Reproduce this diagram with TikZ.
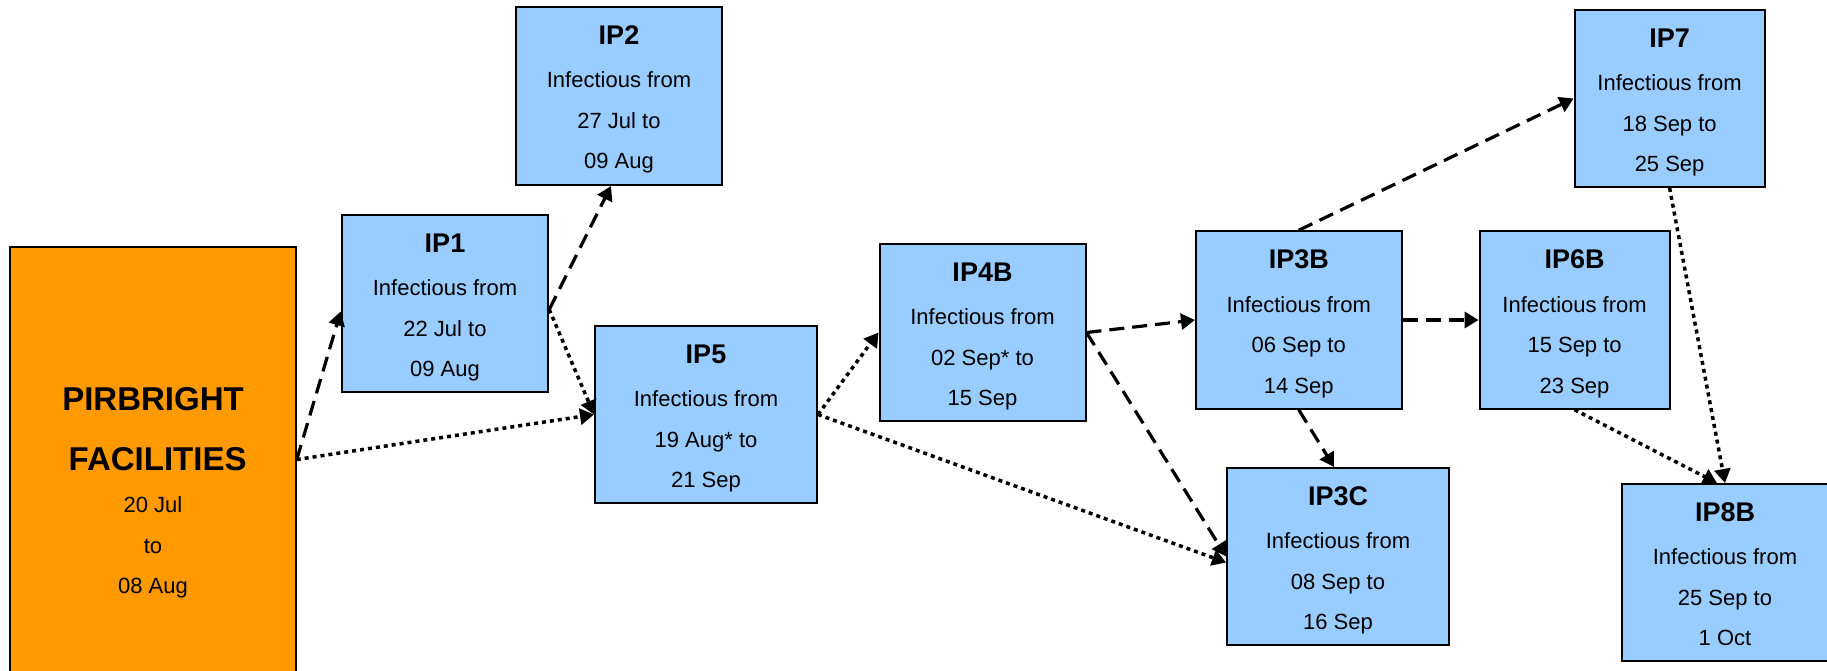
\documentclass[tikz,border=0pt]{standalone}
\usepackage{fontspec}
\setmainfont{Liberation Sans}
\usetikzlibrary{arrows.meta,calc}
\definecolor{ipblue}{RGB}{153,204,255}
\definecolor{pirorange}{RGB}{255,153,0}
\newcommand\iptitlefont{\fontsize{13.5}{20}\selectfont\bfseries}
\newcommand\pirtitlefont{\fontsize{16.5}{20}\selectfont\bfseries}
% #1 name, #2 cx, #3 cy, #4 w, #5 h, #6 title, #7 from, #8 to
\newcommand\IPbox[8]{%
  \node[ipbox, minimum width=#4*0.5pt, minimum height=#5*0.5pt] (#1) at (#2,#3) {};
  \node[iptext, anchor=north] (#1-t) at ([yshift=-9.6pt]#1.north)
    {{\iptitlefont #6}\\[1.5pt]Infectious from\\#7 to\\#8};
}
\begin{document}
\begin{tikzpicture}[x=0.5pt,y=-0.5pt,
  ipbox/.style={draw=black, line width=1pt, fill=ipblue, inner sep=0pt},
  pirbox/.style={draw=black, line width=1pt, fill=pirorange, inner sep=0pt},
  iptext/.style={align=center, inner sep=0pt, font=\fontsize{11}{20.25}\selectfont},
  dasharrow/.style={line width=1.6pt, dash pattern=on 7.5pt off 4pt,
    -{Triangle[length=7pt,width=8pt]}},
  dotarrow/.style={line width=1.75pt, dash pattern=on 2pt off 2pt,
    -{Triangle[length=7pt,width=8pt]}}
]
\path[use as bounding box, fill=white] (0,0) rectangle (1827,670);

% Pirbright
\node[pirbox, minimum width=285.5*0.5pt, minimum height=425*0.5pt] (pir) at (153,459.5) {};
\node[iptext, anchor=north] (pir-t) at ([yshift=-70.5pt]pir.north)
  {{\pirtitlefont PIRBRIGHT}\\[9.75pt]{\pirtitlefont\hspace*{0.278em}FACILITIES}\\[1pt]20 Jul\\to\\08 Aug};

\IPbox{ip2}{619}{96}{206}{178}{IP2}{27 Jul}{09 Aug}
\IPbox{ip1}{445}{303.5}{206.5}{177}{IP1}{22 Jul}{09 Aug}
\IPbox{ip5}{706}{414.5}{222}{177}{IP5}{19 Aug*}{21 Sep}
\IPbox{ip4b}{982.5}{332.5}{206}{177}{IP4B}{02 Sep*}{15 Sep}
\IPbox{ip3b}{1298.75}{320}{205.5}{177.5}{IP3B}{06 Sep}{14 Sep}
\IPbox{ip6b}{1574.6}{320}{190}{177.5}{IP6B}{15 Sep}{23 Sep}
\IPbox{ip7}{1669.6}{98.5}{190}{177}{IP7}{18 Sep}{25 Sep}
\IPbox{ip3c}{1338}{556.5}{221.7}{177}{IP3C}{08 Sep}{16 Sep}
\IPbox{ip8b}{1725}{572.5}{206}{177}{IP8B}{25 Sep}{1 Oct}

% connectors
\draw[dasharrow] (pir.east) -- ([yshift=-4pt]ip1.west);
\draw[dotarrow] (pir.east) -- (ip5.west);
\draw[dasharrow] ([yshift=-3pt]ip1.east) -- ([xshift=-4pt]ip2.south);
\draw[dotarrow] ([yshift=-3pt]ip1.east) -- (ip5.west);
\draw[dotarrow] (ip5.east) -- (ip4b.west);
\draw[dotarrow] (ip5.east) -- ([yshift=-3pt]ip3c.west);
\draw[dasharrow] (ip4b.east) -- (ip3b.west);
\draw[dasharrow] (ip4b.east) -- (ip3c.west);
\draw[dasharrow] (ip3b.north) -- (ip7.west);
\draw[dasharrow] (ip3b.east) -- (ip6b.west);
\draw[dasharrow] (ip3b.south) -- ([xshift=-2pt]ip3c.north);
\draw[dotarrow] (ip6b.south) -- ([xshift=-4pt]ip8b.north);
\draw[dotarrow] (ip7.south) -- (ip8b.north);
\end{tikzpicture}
\end{document}
